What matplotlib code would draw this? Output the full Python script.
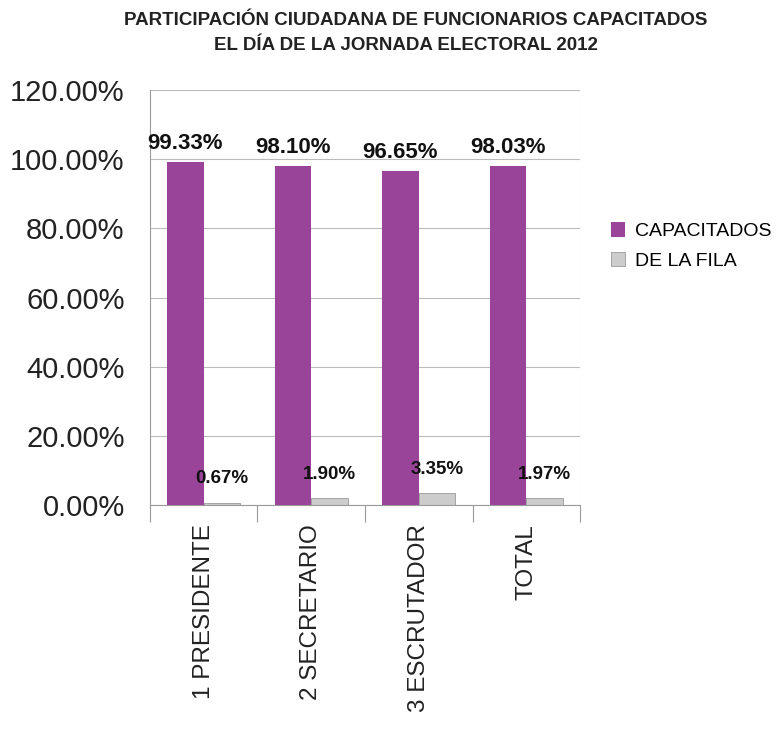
import numpy as np
import matplotlib.pyplot as plt
from matplotlib.ticker import PercentFormatter, FixedLocator

plt.rcParams['font.family'] = ['Liberation Sans', 'DejaVu Sans']

categorias = ["1 PRESIDENTE", "2 SECRETARIO", "3 ESCRUTADOR", "TOTAL"]
capacitados = [99.33, 98.10, 96.65, 98.03]
de_la_fila = [0.67, 1.90, 3.35, 1.97]

color_cap = "#9a4499"
color_fila = "#cccccc"

fig = plt.figure(figsize=(7.84, 7.41), dpi=100)
ax = fig.add_axes([0.191, 0.3185, 0.549, 0.56])

x = np.arange(len(categorias))
w = 0.34
ax.bar(x - w / 2, capacitados, w, color=color_cap, label="CAPACITADOS")
ax.bar(x + w / 2, de_la_fila, w, color=color_fila, edgecolor="#9a9a9a", linewidth=0.6,
       label="DE LA FILA")

for i in range(len(categorias)):
    ax.text(x[i] - w / 2, capacitados[i] + 2.3, f"{capacitados[i]:.2f}%", ha="center",
            va="bottom", fontsize=16, fontweight="bold", color="#111111")
    ax.text(x[i] + w / 2, de_la_fila[i] + 4.5, f"{de_la_fila[i]:.2f}%", ha="center",
            va="bottom", fontsize=13.5, fontweight="bold", color="#111111")

ax.set_xlim(-0.5, len(categorias) - 0.5)
ax.set_ylim(0, 120)
ax.set_yticks(np.arange(0, 121, 20))
ax.yaxis.set_major_formatter(PercentFormatter(decimals=2))
ax.tick_params(axis="y", labelsize=21, length=0, pad=18, colors="#222222")

ax.set_xticks(x)
ax.set_xticklabels(categorias, rotation=90, fontsize=17.5, color="#222222")
ax.tick_params(axis="x", length=0, pad=14)
ax.xaxis.set_minor_locator(FixedLocator(np.arange(-0.5, len(categorias), 1)))
ax.tick_params(axis="x", which="minor", length=12, color="#999999", width=0.8)

ax.grid(axis="y", color="#bbbbbb", linewidth=0.8)
ax.set_axisbelow(True)
for s in ["top", "right"]:
    ax.spines[s].set_visible(False)
ax.spines["left"].set_color("#999999")
ax.spines["bottom"].set_color("#999999")
ax.axvline(len(categorias) - 0.5, color="#cccccc", linewidth=0.8)

fig.text(0.53, 0.972, "PARTICIPACIÓN CIUDADANA DE FUNCIONARIOS CAPACITADOS",
         ha="center", va="center", fontsize=13.5, fontweight="bold", color="#222222")
fig.text(0.518, 0.938, "EL DÍA DE LA JORNADA ELECTORAL 2012",
         ha="center", va="center", fontsize=13.5, fontweight="bold", color="#222222")

ax.legend(loc="center left", bbox_to_anchor=(1.03, 0.624), frameon=False, fontsize=14,
          handlelength=0.75, handleheight=0.75, handletextpad=0.5, labelspacing=0.6)

fig.savefig("out.png", dpi=100)
